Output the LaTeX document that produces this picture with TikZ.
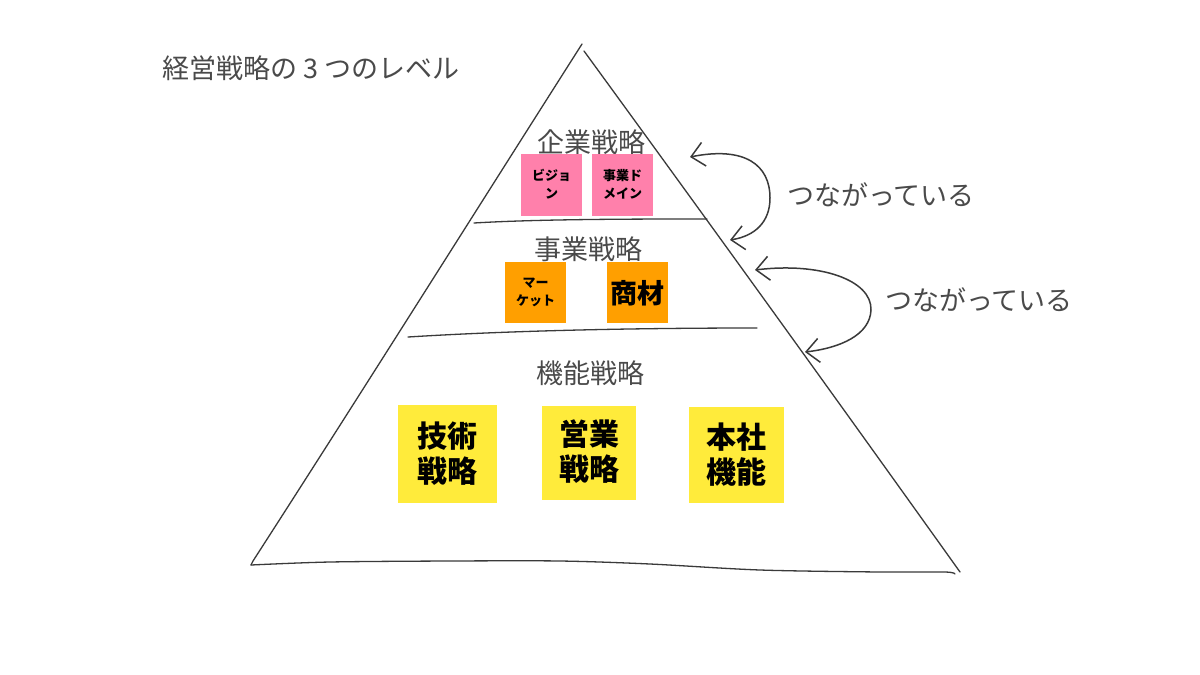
\documentclass[tikz,border=0pt]{standalone}
\usepackage{fontspec}
\newfontfamily\jp{Noto Sans CJK JP}
\usetikzlibrary{arrows.meta}
\definecolor{ink}{HTML}{3A3A3A}
\definecolor{txt}{HTML}{4A4A4A}
\definecolor{pinknote}{HTML}{FF80AB}
\definecolor{orangenote}{HTML}{FF9F00}
\definecolor{yellownote}{HTML}{FFEB3B}
\tikzset{
  pen/.style={draw=ink, line width=1.3pt, line cap=round, line join=round},
  levellabel/.style={font=\jp\fontsize{27}{30}\selectfont, text=txt, inner sep=0pt},
  saylabel/.style={font=\jp\fontsize{27}{30}\selectfont, text=txt, inner sep=0pt},
  note/.style={inner sep=0pt, align=center, text=black},
  smallnote/.style={note, font=\jp\bfseries\fontsize{13}{18}\selectfont},
  bignote/.style={note, font=\jp\bfseries\fontsize{30}{35}\selectfont},
  curved/.style={pen, line width=1.5pt, {Straight Barb[length=13pt,width=24pt,line width=1.5pt]}-{Straight Barb[length=13pt,width=24pt,line width=1.5pt]}},
}
\begin{document}
\begin{tikzpicture}[x=1pt,y=-1pt]
\useasboundingbox[fill=white] (0,0) rectangle (1200,675);

% title
\node[levellabel, anchor=west] (title) at (162,68) {経営戦略の 3 つのレベル};

% pyramid
\draw[pen] (582,44) .. controls (470,220) and (360,395) .. (253,561) -- (251,565);
\draw[pen] (584,51) .. controls (700,210) and (830,390) .. (960,572);
\draw[pen] plot[smooth] coordinates {(251,565) (330,562) (450,561) (560,561) (650,564) (760,570) (880,572) (945,572) (955,574)};
\draw[pen] (474,223) .. controls (540,219) and (640,219) .. (707,219);
\draw[pen] (408,337) .. controls (520,330) and (650,328) .. (757,328);

% level labels
\node[levellabel] (corp) at (591,142) {企業戦略};
\node[levellabel] (biz) at (588,249) {事業戦略};
\node[levellabel] (func) at (590,373) {機能戦略};

% pink notes
\path[fill=pinknote] (521,154) rectangle (582,216);
\node[smallnote] (vision) at (551.5,184) {ビジョ\\ン};
\path[fill=pinknote] (592,154) rectangle (653,216);
\node[smallnote] (domain) at (622.5,184) {事業ド\\メイン};

% orange notes
\path[fill=orangenote] (505,262) rectangle (566,323);
\node[smallnote] (market) at (535.5,292) {マー\\ケット};
\path[fill=orangenote] (607,262) rectangle (668,323);
\node[note, font=\jp\bfseries\fontsize{27}{30}\selectfont] (product) at (637.5,293) {商材};

% yellow notes
\path[fill=yellownote] (398,405) rectangle (497,503);
\node[bignote] (tech) at (447.5,454) {技術\\戦略};
\path[fill=yellownote] (542,406) rectangle (636,500);
\node[bignote] (sales) at (589,452) {営業\\戦略};
\path[fill=yellownote] (689,407) rectangle (784,503);
\node[bignote] (hq) at (736.5,455) {本社\\機能};

% connection arrows
\coordinate (a1s) at (690,157);
\coordinate (a1e) at (730,240);
\coordinate (a2s) at (755,270);
\coordinate (a2e) at (805,352);
\draw[curved] (a1s) .. controls (745,146) and (770,165) .. (770,198) .. controls (770,222) and (755,236) .. (a1e);
\draw[curved] (a2s) .. controls (820,262) and (872,280) .. (871,310) .. controls (870,335) and (840,348) .. (a2e);

\node[saylabel, anchor=west] (say1) at (787,195) {つながっている};
\node[saylabel, anchor=west] (say2) at (885,300) {つながっている};
\end{tikzpicture}
\end{document}
